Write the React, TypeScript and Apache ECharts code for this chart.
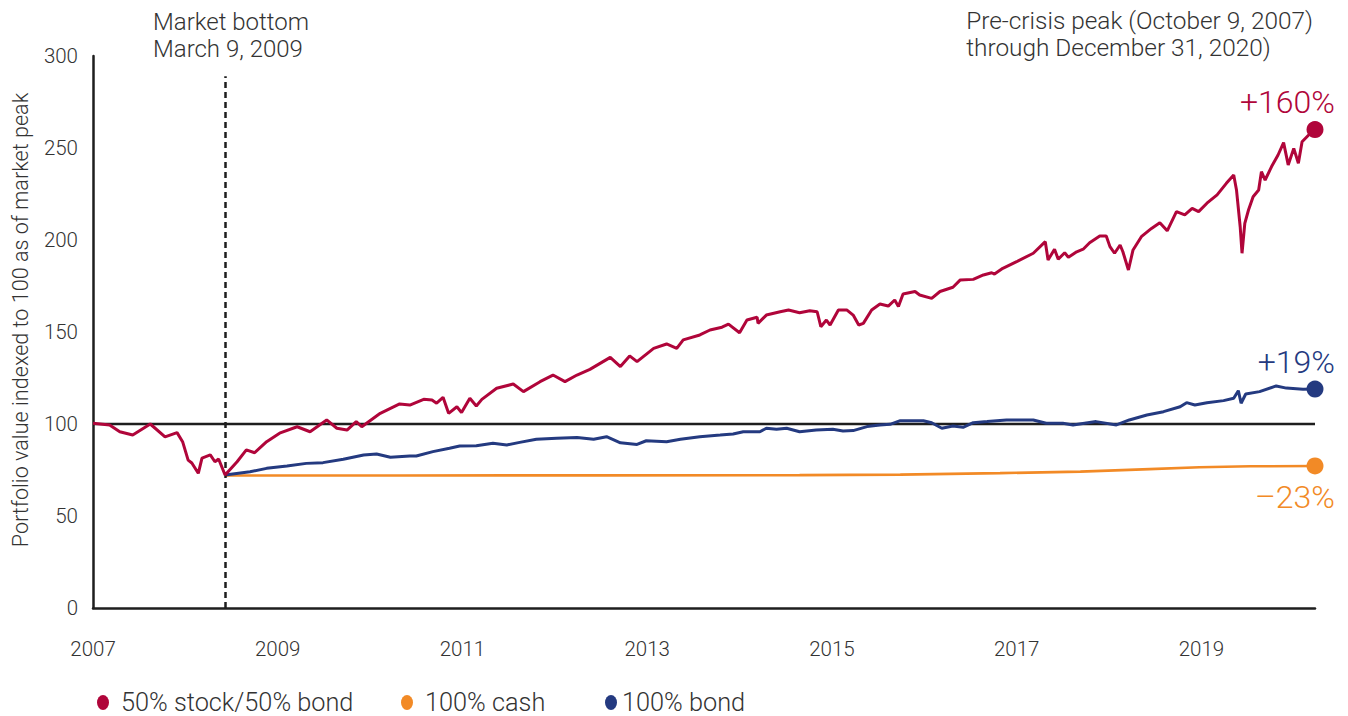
import React, { useEffect, useRef } from "react";
import * as echarts from "echarts";

// Pre-crisis peak (October 9, 2007) through December 31, 2020, in decimal years
const START_YEAR = 2007.77;
const END_YEAR = 2021.0;
const MARKET_BOTTOM_YEAR = 2009.2;
const X_TICK_LABELS = ["2007", "2009", "2011", "2013", "2015", "2017", "2019"];
const REFERENCE_LEVEL = 100;

const stockBondYears = [
  2007.77, 2007.95, 2008.06, 2008.2, 2008.39, 2008.55, 2008.68, 2008.74, 2008.8, 2008.84,
  2008.91, 2008.95, 2009.04, 2009.09, 2009.13, 2009.2, 2009.33, 2009.43, 2009.52, 2009.65,
  2009.79, 2009.98, 2010.12, 2010.3, 2010.41, 2010.52, 2010.62, 2010.68, 2010.88, 2011.09,
  2011.2, 2011.35, 2011.44, 2011.49, 2011.56, 2011.62, 2011.71, 2011.76, 2011.85, 2011.92,
  2011.98, 2012.14, 2012.32, 2012.43, 2012.61, 2012.75, 2012.88, 2013.01, 2013.15, 2013.37,
  2013.48, 2013.58, 2013.66, 2013.84, 2013.98, 2014.09, 2014.16, 2014.34, 2014.45, 2014.58,
  2014.65, 2014.77, 2014.85, 2014.96, 2014.97, 2015.06, 2015.21, 2015.3, 2015.42, 2015.53,
  2015.61, 2015.65, 2015.71, 2015.75, 2015.84, 2015.93, 2016.0, 2016.06, 2016.11, 2016.2,
  2016.29, 2016.38, 2016.45, 2016.49, 2016.54, 2016.67, 2016.72, 2016.85, 2016.94, 2017.08,
  2017.16, 2017.3, 2017.41, 2017.5, 2017.53, 2017.62, 2017.77, 2017.95, 2018.08, 2018.11,
  2018.18, 2018.22, 2018.29, 2018.33, 2018.42, 2018.49, 2018.56, 2018.67, 2018.74, 2018.78,
  2018.83, 2018.89, 2018.92, 2018.98, 2019.03, 2019.12, 2019.23, 2019.32, 2019.4, 2019.5,
  2019.59, 2019.67, 2019.74, 2019.83, 2019.94, 2020.04, 2020.12, 2020.15, 2020.19, 2020.21,
  2020.24, 2020.28, 2020.33, 2020.39, 2020.42, 2020.46, 2020.53, 2020.6, 2020.66, 2020.71,
  2020.77, 2020.82, 2020.86, 2020.95, 2021.0,
];
const stockBondValues = [
  100.4, 99.5, 95.8, 94, 100, 93, 95.3, 90.4, 80.4, 78.8,
  73.2, 81.5, 83.2, 79.5, 81, 72.3, 79.5, 85.9, 84.4, 90.4,
  95, 98.5, 95.8, 102.2, 97.7, 96.7, 101.3, 98.5, 105.8, 110.9,
  110.3, 113.4, 113, 111.3, 114.5, 105.8, 109.4, 106.2, 114, 109.8,
  113.4, 119.4, 121.7, 117.6, 123, 126.6, 123, 126.6, 129.7, 136.2,
  131.2, 137, 133.9, 141.1, 143.5, 141.1, 145.7, 148.4, 151.1, 152.6,
  154.3, 149.6, 156.5, 158, 154.7, 159.2, 161, 162, 160.5, 161.6,
  161, 152.9, 156.5, 153.8, 162, 162, 159.2, 153.8, 154.7, 162,
  165.2, 164.1, 167.4, 163.8, 170.7, 172, 170.1, 168.3, 172, 174.3,
  178.3, 178.6, 181, 182.2, 181.5, 184.6, 188.2, 192.8, 199.1, 189.1,
  195, 189.5, 193.1, 190.6, 193.6, 195, 198.5, 202.2, 202.2, 196.4,
  192.8, 197.3, 193.6, 183.7, 194.6, 201.8, 206.3, 209.4, 205, 215.4,
  213.6, 217.2, 215.4, 220, 224.5, 230.8, 235.3, 227.2, 207.2, 192.8,
  209, 216.3, 223.5, 227.2, 237.1, 232.6, 239.9, 246.2, 252.9, 240.8,
  249.8, 241.7, 253.4, 258, 260,
];

const cashYears = [2009.2, 2011.09, 2013.26, 2015.42, 2016.51, 2017.59, 2018.46, 2019.21, 2019.75, 2020.3, 2021.0];
const cashValues = [72.0, 72.0, 72.1, 72.2, 72.5, 73.3, 74.1, 75.5, 76.5, 77.0, 77.2];

const bondYears = [
  2009.2, 2009.47, 2009.65, 2009.87, 2010.08, 2010.26, 2010.48, 2010.7, 2010.84, 2010.99,
  2011.2, 2011.27, 2011.45, 2011.63, 2011.74, 2011.92, 2012.1, 2012.25, 2012.39, 2012.57,
  2012.79, 2013.01, 2013.19, 2013.33, 2013.48, 2013.66, 2013.76, 2013.98, 2014.13, 2014.34,
  2014.56, 2014.7, 2014.81, 2014.99, 2015.06, 2015.17, 2015.28, 2015.42, 2015.6, 2015.78,
  2015.89, 2016.0, 2016.15, 2016.29, 2016.4, 2016.51, 2016.76, 2016.85, 2016.96, 2017.08,
  2017.19, 2017.3, 2017.45, 2017.66, 2017.95, 2018.09, 2018.27, 2018.38, 2018.63, 2018.85,
  2018.99, 2019.18, 2019.36, 2019.54, 2019.61, 2019.7, 2019.83, 2020.01, 2020.12, 2020.17,
  2020.2, 2020.25, 2020.4, 2020.58, 2020.69, 2020.87, 2021.0,
];
const bondValues = [
  72.3, 74, 75.9, 77.2, 78.6, 79, 80.8, 83.2, 83.7, 81.9,
  82.6, 82.6, 85, 86.8, 88, 88.2, 89.5, 88.6, 90, 91.7,
  92.2, 92.6, 91.7, 93.1, 89.8, 88.9, 90.9, 90.4, 91.7, 93.1,
  94, 94.6, 95.8, 95.8, 97.7, 97.1, 97.7, 95.8, 96.7, 97.1,
  96.2, 96.4, 98.6, 99.5, 99.8, 101.8, 101.8, 100.7, 97.7, 98.9,
  98.2, 100.7, 101.3, 102.2, 102.2, 100.4, 100.4, 99.5, 101.3, 99.5,
  102.2, 104.9, 106.7, 109.4, 111.6, 110.3, 111.6, 112.7, 114, 118.1,
  111.3, 116.3, 117.6, 120.7, 119.5, 118.9, 119,
];

const SERIES_NAMES = ["50% stock/50% bond", "100% cash", "100% bond"];
const END_LABELS = ["+160%", "\u201323%", "+19%"];

const CRIMSON = "#B0053A";
const ORANGE = "#F28A26";
const NAVY = "#243A80";
const INK = "#1e1e1e";
const TEXT = "#333333";
const FONT = "Roboto, 'Liberation Sans', sans-serif";
const ELLIPSE_ICON = "path://M6,0 A6,7.5 0 1,1 6,15 A6,7.5 0 1,1 6,0 Z";

const toPoints = (xs: number[], ys: number[]) =>
  xs.map((x, i) => [+(x - START_YEAR).toFixed(3), ys[i]]);

export default function App() {
  const ref = useRef<HTMLDivElement>(null);

  useEffect(() => {
    if (!ref.current) return;
    const chart = echarts.init(ref.current, null, { renderer: "svg" });
    const span = +(END_YEAR - START_YEAR).toFixed(3);
    const bottomX = +(MARKET_BOTTOM_YEAR - START_YEAR).toFixed(3);

    const sb = toPoints(stockBondYears, stockBondValues);
    const cash = toPoints(cashYears, cashValues);
    const bond = toPoints(bondYears, bondValues);
    const lines = [sb, cash, bond];
    const colors = [CRIMSON, ORANGE, NAVY];
    const legendLefts = [97, 401, 605];
    const legendTextPad = [7, 7, 0];

    const lineSeries = lines.map((d, i) => ({
      name: SERIES_NAMES[i],
      type: "line",
      data: d,
      showSymbol: false,
      symbol: "circle",
      lineStyle: { color: colors[i], width: i === 1 ? 2.6 : 3 },
      itemStyle: { color: colors[i], opacity: 1 },
      z: i === 0 ? 5 : 4,
    }));

    const endSeries = lines.map((d, i) => ({
      name: SERIES_NAMES[i] + " end",
      type: "scatter",
      data: [d[d.length - 1]],
      symbol: "circle",
      symbolSize: 17,
      itemStyle: { color: colors[i], opacity: 1 },
      z: 6,
      label: {
        show: true,
        formatter: END_LABELS[i],
        position: i === 1 ? "bottom" : "top",
        distance: i === 1 ? 7 : 3,
        align: "right",
        offset: [20, 0],
        color: colors[i],
        fontSize: 32,
        fontWeight: 300,
        fontFamily: FONT,
      },
    }));

    chart.setOption({
      animation: false,
      textStyle: { fontFamily: FONT },
      grid: { left: 93, right: 33, top: 56, bottom: 108, containLabel: false },
      legend: SERIES_NAMES.map((n, i) => ({
        data: [{ name: n, icon: ELLIPSE_ICON }],
        left: legendLefts[i],
        top: 690,
        padding: 0,
        itemWidth: 12,
        itemHeight: 15,
        selectedMode: false,
        textStyle: {
          color: TEXT,
          fontSize: 25.3,
          lineHeight: 24,
          fontWeight: 300,
          fontFamily: FONT,
          padding: [0, 0, 0, legendTextPad[i]],
        },
      })),
      xAxis: {
        type: "value",
        min: 0,
        max: span,
        interval: 2,
        axisLine: { show: true, lineStyle: { color: INK, width: 2.5 } },
        axisTick: { show: false },
        splitLine: { show: false },
        axisLabel: {
          color: TEXT,
          fontSize: 20.5,
          fontWeight: 300,
          margin: 30,
          showMaxLabel: false,
          formatter: (v: number) => X_TICK_LABELS[Math.round(v / 2)] ?? "",
        },
      },
      yAxis: {
        type: "value",
        min: 0,
        max: 300,
        interval: 50,
        axisLine: { show: true, lineStyle: { color: INK, width: 2.5 } },
        axisTick: { show: false },
        splitLine: { show: false },
        axisLabel: { color: TEXT, fontSize: 20.5, fontWeight: 300, margin: 15 },
      },
      series: [
        {
          name: "reference",
          type: "line",
          data: [
            [0, REFERENCE_LEVEL],
            [span, REFERENCE_LEVEL],
          ],
          showSymbol: false,
          lineStyle: { color: INK, width: 2.5 },
          silent: true,
          z: 2,
          markLine: {
            silent: true,
            symbol: "none",
            label: { show: false },
            lineStyle: { color: INK, width: 2.5, type: [6, 4] },
            data: [[{ coord: [bottomX, 0] }, { coord: [bottomX, 289] }]],
          },
        },
        ...lineSeries,
        ...endSeries,
      ],
      graphic: [
        {
          type: "text",
          x: 20,
          y: 320,
          rotation: Math.PI / 2,
          style: {
            text: "Portfolio value indexed to 100 as of market peak",
            fill: TEXT,
            fontSize: 21.6,
            fontWeight: 300,
            fontFamily: FONT,
            align: "center",
            verticalAlign: "middle",
          },
        },
        {
          type: "text",
          left: 153,
          top: 8,
          style: {
            text: "Market bottom\nMarch 9, 2009",
            fill: TEXT,
            fontSize: 24,
            fontWeight: 300,
            lineHeight: 27,
            fontFamily: FONT,
          },
        },
        {
          type: "text",
          right: 35,
          top: 7,
          style: {
            text: "Pre-crisis peak (October 9, 2007)\nthrough December 31, 2020)",
            fill: TEXT,
            fontSize: 24.4,
            fontWeight: 300,
            lineHeight: 27,
            align: "right",
            fontFamily: FONT,
          },
        },
      ],
    });
    return () => chart.dispose();
  }, []);

  return (
    <div
      ref={ref}
      style={{ position: "fixed", left: 0, top: 0, width: 1348, height: 716, background: "#fff" }}
    />
  );
}
